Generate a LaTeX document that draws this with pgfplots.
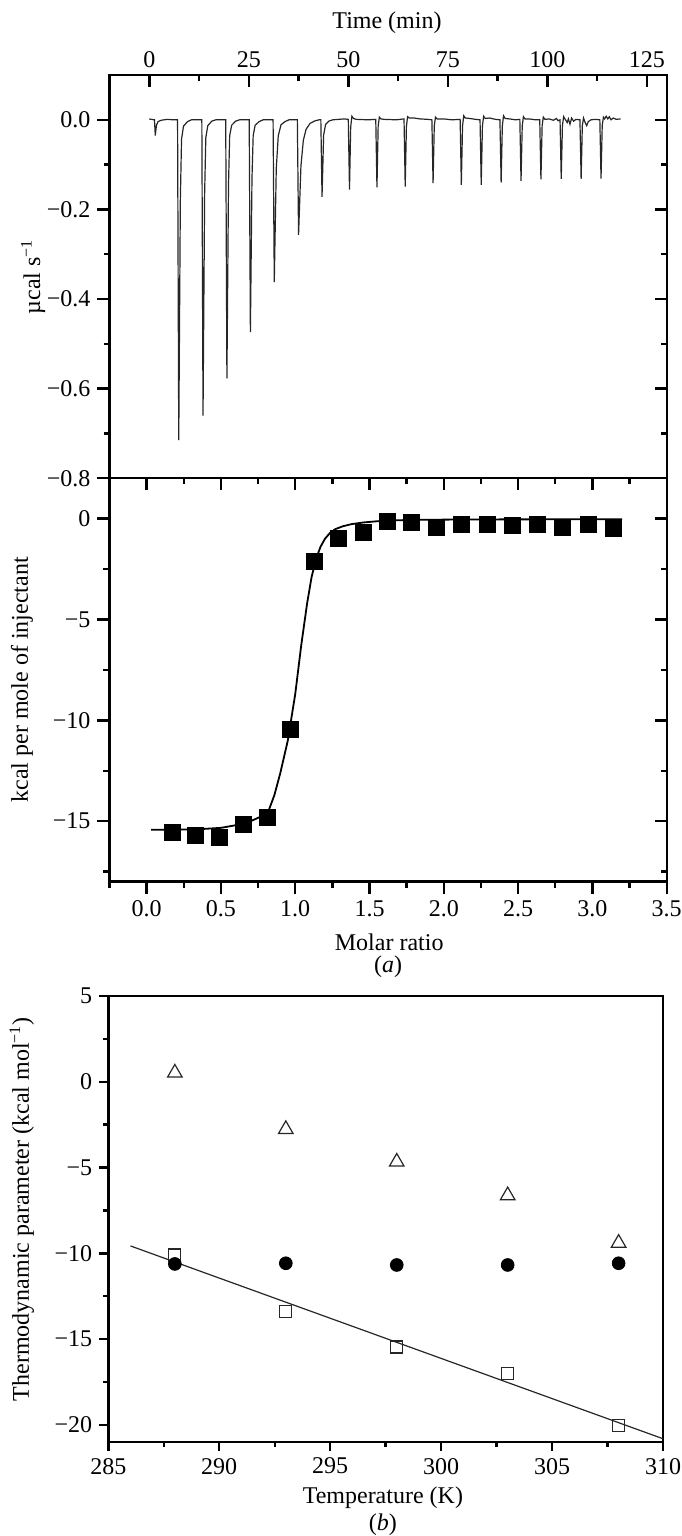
\documentclass[border=0pt]{standalone}
\usepackage{fontspec}
\setmainfont{Liberation Serif}
\usepackage{pgfplots}
\pgfplotsset{compat=1.18}
\pgfplotsset{
  every axis/.append style={
    scale only axis, anchor=south west,
    axis line style={line width=1.2pt, black},
    tick style={line width=1.2pt, black},
    major tick length=6pt, minor tick length=3pt,
    tick label style={font=\fontsize{12}{14}\selectfont},
    label style={font=\fontsize{12}{14}\selectfont},
  }
}
\begin{document}
\begin{tikzpicture}[font=\fontsize{12}{14}\selectfont]
\useasboundingbox (0,0) rectangle (340.5pt,768pt);

% ---------- top panel: raw ITC ----------
\begin{axis}[at={(54.75pt,528.85pt)}, width=278.6pt, height=201.65pt,
  xmin=-10, xmax=130, ymin=-0.8, ymax=0.1,
  xtick=\empty,
  ytick={0,-0.2,-0.4,-0.6,-0.8}, yticklabels={0.0,−0.2,−0.4,−0.6,−0.8},
  minor ytick={-0.1,-0.3,-0.5,-0.7},
  ytick pos=left, tick align=outside,
  ylabel={µcal s\textsuperscript{−1}},
  ylabel style={at={(axis description cs:-0.137,0.5)}, anchor=center},
]
\addplot[black!85, line width=0.6pt] coordinates {
(0,0.002) (0.5,0.001)
(1.3,0) (1.5,-0.035) (1.8,-0.012) (2.2,-0.004) (3,-0.001) (4.5,0.001) (6,0.0)
(7.1,0.0) (7.4,-0.715) (7.8,-0.179) (8.1,-0.043) (8.6,-0.014) (9.6,-0.004) (10.6,0)
(13.2,0) (13.5,-0.66) (13.9,-0.165) (14.2,-0.04) (14.7,-0.013) (15.7,-0.003) (16.7,0)
(19.2,0) (19.5,-0.577) (19.9,-0.144) (20.2,-0.035) (20.7,-0.012) (21.7,-0.003) (22.7,0)
(25.1,0) (25.4,-0.474) (25.8,-0.13) (26.1,-0.035) (26.6,-0.012) (27.6,-0.004) (28.6,0)
(31.1,0) (31.4,-0.362) (31.9,-0.109) (32.4,-0.036) (33.1,-0.011) (34.1,-0.004) (35.1,0)
(37.2,0) (37.5,-0.257) (38.1,-0.103) (38.7,-0.046) (39.4,-0.021) (40.4,-0.008) (41.7,-0.002) (42.7,0)
(43.1,0) (43.4,-0.172) (43.8,-0.034) (44.3,-0.01) (45.1,-0.003) (46.1,0) (49.0,0.002)
(50.0,0.001) (50.3,-0.156) (50.6,-0.016) (50.9,0.008) (51.3,0.003) (52,0.001) (55,0.0)
(56.9,0.001) (57.2,-0.151) (57.5,-0.015) (57.8,0.006) (58.2,0.002) (59,0.001) (62,0.0)
(64,0.002) (64.3,-0.149) (64.6,-0.015) (64.9,0.007) (65.3,0.004) (66.5,0.004) (68,0.002) (70,0.001)
(71,0.0) (71.3,-0.141) (71.6,-0.014) (71.9,0.006) (72.3,0.002) (74,0.002) (76,0.0)
(78.1,0.001) (78.4,-0.145) (78.7,-0.014) (79.0,0.009) (79.4,0.004) (80.5,0.003) (82,0.001)
(83.1,0.0) (83.4,-0.145) (83.7,-0.014) (84.0,0.008) (84.4,0.003) (85.5,0.004) (87,0.001)
(88.1,0.0) (88.4,-0.14) (88.7,-0.014) (89.0,0.009) (89.4,0.003) (90.5,0.002) (92,0.0)
(93.1,0.001) (93.4,-0.136) (93.7,-0.014) (94.0,0.007) (94.4,0.002) (95.5,0.002) (97,0.0)
(98.1,0.0) (98.4,-0.133) (98.7,-0.013) (99.0,0.006) (99.4,0.001) (100.5,0.002) (101.5,-0.001) (102.3,0.003) (102.7,-0.002)
(103.2,0.0) (103.5,-0.132) (103.8,-0.013) (104.1,0.007) (104.5,0.001) (105.0,-0.006) (105.3,0.002) (105.7,-0.01) (106.1,0.004) (106.6,-0.003) (107.2,0.001)
(108.2,0.0) (108.5,-0.132) (108.8,-0.013) (109.1,0.004) (109.5,-0.006) (109.9,-0.013) (110.3,-0.004) (111,0.0) (112,0.001)
(113.2,0.0) (113.5,-0.131) (113.8,-0.013) (114.1,0.006) (114.4,0.002) (114.8,0.008) (115.2,0.002) (115.6,0.007) (116,0.0) (116.6,0.004) (117.3,0.001) (118.4,0.002)
};
\end{axis}
\begin{axis}[at={(54.75pt,528.85pt)}, width=278.6pt, height=201.65pt,
  xmin=-10, xmax=130, ymin=-0.8, ymax=0.1,
  xtick={0,25,50,75,100,125}, xticklabels={0,25,50,75,100,125},
  minor xtick={12.5,37.5,62.5,87.5,112.5},
  xtick pos=right, xticklabel pos=right,
  ytick={0,-0.2,-0.4,-0.6,-0.8}, minor ytick={-0.1,-0.3,-0.5,-0.7},
  ytick pos=right, yticklabels={},
  tick align=inside,
  xlabel={Time (min)},
  xlabel style={at={(axis description cs:0.498,1.129)}, anchor=center},
]
\end{axis}

% ---------- middle panel: integrated heats ----------
\begin{axis}[at={(54.75pt,327.15pt)}, width=278.6pt, height=201.7pt,
  xmin=-0.25, xmax=3.5, ymin=-18, ymax=2,
  xtick={0,0.5,1,1.5,2,2.5,3,3.5}, xticklabels={0.0,0.5,1.0,1.5,2.0,2.5,3.0,3.5},
  minor xtick={-0.25,0.25,0.75,1.25,1.75,2.25,2.75,3.25},
  ytick={0,-5,-10,-15}, yticklabels={0,−5,−10,−15},
  minor ytick={-2.5,-7.5,-12.5,-17.5},
  xtick pos=left, ytick pos=left, tick align=outside,
  xlabel={Molar ratio},
  xlabel style={at={(axis description cs:0.502,-0.149)}, anchor=center},
  ylabel={kcal per mole of injectant},
  ylabel style={at={(axis description cs:-0.157,0.5)}, anchor=center},
  clip=false,
]
\addplot[black, line width=0.9pt] coordinates {
(0.03,-15.42) (0.2,-15.42) (0.35,-15.40) (0.5,-15.33) (0.6,-15.2) (0.7,-15.0) (0.76,-14.8)
(0.82,-14.5) (0.86,-13.7) (0.9,-12.6) (0.95,-11.0) (1.0,-8.7) (1.04,-6.3) (1.08,-4.2)
(1.11,-2.9) (1.14,-2.0) (1.17,-1.4) (1.2,-1.0) (1.235,-0.7) (1.27,-0.52) (1.32,-0.38)
(1.38,-0.27) (1.46,-0.19) (1.55,-0.13) (1.65,-0.09) (1.8,-0.06) (2.2,-0.04) (3.2,-0.03)
};
\addplot[only marks, mark=square*, mark size=4pt, mark options={fill=black, draw=black}] coordinates {
(0.17,-15.56) (0.33,-15.69) (0.49,-15.81) (0.65,-15.15) (0.81,-14.79) (0.97,-10.45)
(1.13,-2.13) (1.29,-0.96) (1.46,-0.66) (1.62,-0.13) (1.78,-0.17) (1.95,-0.42)
(2.12,-0.30) (2.29,-0.30) (2.46,-0.35) (2.63,-0.27) (2.80,-0.42) (2.97,-0.30) (3.14,-0.47)
};
\node[font=\fontsize{12}{14}\selectfont] at (axis description cs:0.5,-0.211) {(\textit{a})};
\end{axis}
\begin{axis}[at={(54.75pt,327.15pt)}, width=278.6pt, height=201.7pt,
  xmin=-0.25, xmax=3.5, ymin=-18, ymax=2,
  xtick={0,0.5,1,1.5,2,2.5,3,3.5}, xticklabels={},
  minor xtick={-0.25,0.25,0.75,1.25,1.75,2.25,2.75,3.25},
  ytick={0,-5,-10,-15}, yticklabels={},
  minor ytick={-2.5,-7.5,-12.5,-17.5},
  xtick pos=right, ytick pos=right, tick align=inside,
]
\end{axis}

% ---------- bottom panel (b) ----------
\begin{axis}[at={(54.15pt,47pt)}, width=277.35pt, height=223pt,
  xmin=285, xmax=310, ymin=-21, ymax=5,
  xtick={285,290,295,300,305,310}, xticklabels={285,290,295,300,305,310},
  minor xtick={287.5,292.5,297.5,302.5,307.5},
  ytick={5,0,-5,-10,-15,-20}, yticklabels={5,0,−5,−10,−15,−20},
  minor ytick={2.5,-2.5,-7.5,-12.5,-17.5},
  xtick pos=left, ytick pos=left, tick align=outside,
  major tick length=4.5pt, minor tick length=2.5pt,
  xlabel={Temperature (K)},
  xlabel style={at={(axis description cs:0.495,-0.1256)}, anchor=center},
  ylabel={Thermodynamic parameter (kcal mol\textsuperscript{−1})},
  ylabel style={at={(axis description cs:-0.156,0.522)}, anchor=center},
  clip=false,
]
\addplot[black!85, line width=0.6pt] coordinates {(286,-9.57) (310,-20.81)};
\addplot[only marks, mark=square, mark size=3pt, mark options={draw=black!85, line width=0.6pt}] coordinates {
(288,-10.10) (293,-13.39) (298,-15.46) (303,-17.03) (308,-20.04)
};
\addplot[only marks, mark=triangle, mark size=4.2pt, mark options={draw=black!85, line width=0.6pt}] coordinates {
(288,0.52) (293,-2.77) (298,-4.67) (303,-6.63) (308,-9.40)
};
\addplot[only marks, mark=*, mark size=3.2pt, mark options={fill=black, draw=black}] coordinates {
(288,-10.62) (293,-10.58) (298,-10.68) (303,-10.68) (308,-10.58)
};
\node[font=\fontsize{12}{14}\selectfont] at (axis description cs:0.495,-0.186) {(\textit{b})};
\end{axis}
\end{tikzpicture}
\end{document}
